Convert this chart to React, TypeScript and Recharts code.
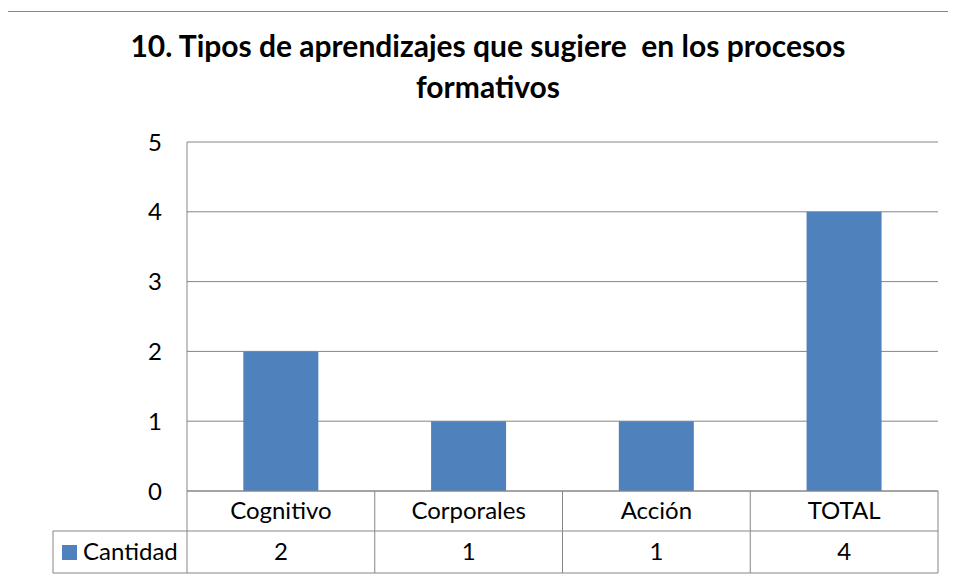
import React from "react";
import { BarChart, Bar, XAxis, YAxis, CartesianGrid } from "recharts";

const categories = ["Cognitivo", "Corporales", "Acción", "TOTAL"];
const cantidad = [2, 1, 1, 4];
const yTicks = [0, 1, 2, 3, 4, 5];
const seriesName = "Cantidad";
const titleLines = ["10. Tipos de aprendizajes que sugiere  en los procesos", "formativos"];

const data = categories.map((c, i) => ({ name: c, value: cantidad[i] }));

const FONT = "Lato, 'Open Sans', sans-serif";
const GRID = "#868686";
const BAR = "#4F81BD";

const W = 948;
const H = 573;
const M = { top: 134, right: 18, left: 0, bottom: 8 };
const Y_W = 179;
const X_H = 82;
const ROW1 = 40;
const LEGEND_LEFT = 45;
const FS = 24;

const TableTick = (props: any) => {
  const { x, y, payload, index } = props;
  const plotW = typeof props.width === "number" && props.width > 0 ? props.width : W - M.left - M.right - Y_W;
  const band = plotW / categories.length;
  const left = x - band / 2;
  const right = x + band / 2;
  const val = cantidad[index];
  return (
    <g>
      <line x1={right} x2={right} y1={y} y2={y + X_H} stroke={GRID} strokeWidth={1} />
      <line x1={left} x2={right} y1={y + ROW1} y2={y + ROW1} stroke={GRID} strokeWidth={1} />
      <line x1={left} x2={right} y1={y + X_H} y2={y + X_H} stroke={GRID} strokeWidth={1} />
      {index === 0 && (
        <g>
          <line x1={left} x2={left} y1={y} y2={y + X_H} stroke={GRID} strokeWidth={1} />
          <line x1={LEGEND_LEFT} x2={left} y1={y + ROW1} y2={y + ROW1} stroke={GRID} strokeWidth={1} />
          <line x1={LEGEND_LEFT} x2={left} y1={y + X_H} y2={y + X_H} stroke={GRID} strokeWidth={1} />
          <line x1={LEGEND_LEFT} x2={LEGEND_LEFT} y1={y + ROW1} y2={y + X_H} stroke={GRID} strokeWidth={1} />
          <rect x={LEGEND_LEFT + 9} y={y + 54} width={15} height={15} fill={BAR} />
          <text x={LEGEND_LEFT + 30} y={y + 69} fontFamily={FONT} fontSize={FS} fill="#000">
            {seriesName}
          </text>
        </g>
      )}
      <text x={x} y={y + 28} textAnchor="middle" fontFamily={FONT} fontSize={FS} fill="#000">
        {payload.value}
      </text>
      <text x={x} y={y + 69} textAnchor="middle" fontFamily={FONT} fontSize={FS} fill="#000">
        {val}
      </text>
    </g>
  );
};

export default function App() {
  return (
    <div style={{ position: "relative", width: W, height: H, overflow: "hidden", background: "#fff" }}>
      <div
        style={{
          position: "absolute",
          left: -1,
          top: 3,
          width: 1200,
          height: 1200,
          border: "1px solid #878787",
          boxSizing: "border-box",
        }}
      />
      <div
        style={{
          position: "absolute",
          left: 0,
          top: 17,
          width: 960,
          textAlign: "center",
          fontFamily: FONT,
          fontWeight: 700,
          fontSize: 30,
          lineHeight: "41px",
          color: "#000",
          whiteSpace: "pre",
        }}
      >
        {titleLines.map((t, i) => (
          <div key={i}>{t}</div>
        ))}
      </div>
      <div style={{ position: "absolute", left: 0, top: 0 }}>
        <BarChart width={W} height={H} data={data} margin={M} barCategoryGap="30%">
          <CartesianGrid vertical={false} stroke={GRID} strokeWidth={1} />
          <XAxis
            dataKey="name"
            height={X_H}
            axisLine={{ stroke: GRID }}
            tickLine={false}
            tickSize={0}
            tickMargin={0}
            interval={0}
            tick={<TableTick />}
          />
          <YAxis
            width={Y_W}
            domain={[0, 5]}
            ticks={yTicks}
            interval={0}
            axisLine={{ stroke: GRID }}
            tickLine={false}
            tickSize={0}
            tickMargin={25}
            tick={{ fontFamily: FONT, fontSize: FS, fill: "#000" }}
          />
          <Bar dataKey="value" fill={BAR} isAnimationActive={false} />
        </BarChart>
      </div>
    </div>
  );
}
